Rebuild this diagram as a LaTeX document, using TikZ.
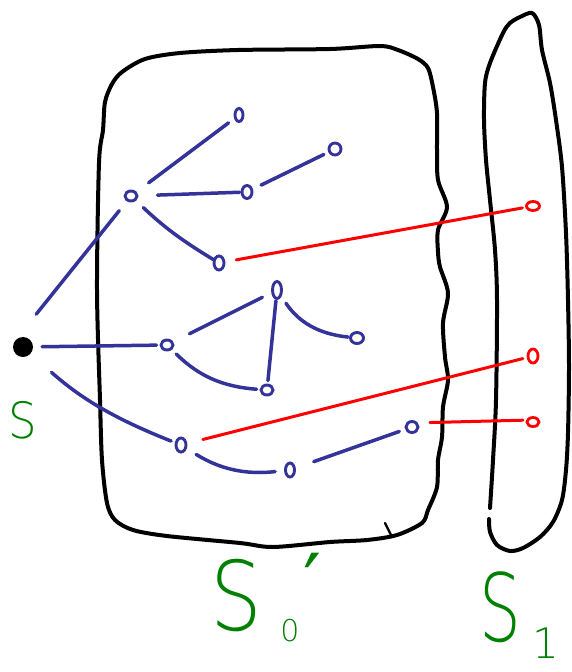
\documentclass[tikz,border=0pt]{standalone}
\usepackage{fontspec}
\newfontfamily\thinfont{DejaVu Sans ExtraLight}
\newfontfamily\dvs{DejaVu Sans}
\usetikzlibrary{shapes.geometric}
\definecolor{hblue}{RGB}{51,51,153}
\definecolor{hred}{RGB}{255,0,0}
\definecolor{hgreen}{RGB}{0,128,0}
\begin{document}
\begin{tikzpicture}[x=1pt,y=-1pt,
  vtx/.style={ellipse,draw=hblue,line width=2.9pt,inner sep=0pt},
  rvtx/.style={ellipse,draw=hred,line width=2.8pt,inner sep=0pt},
  edge/.style={hblue,line width=3.5pt,line cap=round},
  redge/.style={hred,line width=3pt,line cap=round},
  border/.style={black,line width=4pt,line cap=round,line join=round},
  lbl/.style={text=hgreen,inner sep=0pt}]
\useasboundingbox (0,0) rectangle (571,672);

% outlines
\draw[border] plot[smooth cycle,tension=0.5] coordinates {
 (105,102) (112,84) (122,72) (145,59) (180,53) (238,50) (330,49) (380,46)
 (398,50) (418,59) (428,68) (433,87) (437,113) (437,150) (438,180) (447,207)
 (438,230) (438,252) (440,267) (448,293) (443,323) (445,357) (448,380)
 (443,407) (442,437) (438,460) (437,487) (428,510) (422,523) (397,535)
 (367,540) (330,542) (273,547) (240,543) (167,536) (133,530) (115,520)
 (107,503) (102,460) (100,400) (97,290) (99,163) (103,130)};
\draw[border,line width=2.4pt] (385,523) -- (392,537);
\draw[border] plot[smooth,tension=0.5] coordinates {
 (489,519) (490,532) (497,545) (510,551) (523,548) (540,537) (553,522)
 (562,500) (566,470) (568,433) (569,367) (568,300) (566,233) (562,167)
 (556,120) (550,83) (542,50) (539,25) (532,13) (520,17) (510,23) (503,33)
 (490,63) (485,83) (484,120) (486,160) (490,200) (495,250) (497,300)
 (496,400) (493,460) (490,508)};

% vertices
\node[circle,fill=black,minimum size=20pt,inner sep=0pt] (s) at (23,347) {};
\node[vtx,minimum width=12pt,minimum height=10pt] (a1) at (131,196) {};
\node[vtx,minimum width=8pt,minimum height=13pt] (b1) at (239,115) {};
\node[vtx,minimum width=10pt,minimum height=13pt] (b2) at (247,192) {};
\node[vtx,minimum width=12pt,minimum height=12pt] (b3) at (335,149) {};
\node[vtx,minimum width=10pt,minimum height=14pt] (b4) at (219,263) {};
\node[vtx,minimum width=12pt,minimum height=10pt] (c1) at (167,345) {};
\node[vtx,minimum width=9pt,minimum height=17pt] (c2) at (277,290) {};
\node[vtx,minimum width=13pt,minimum height=11pt] (c3) at (357,338) {};
\node[vtx,minimum width=12pt,minimum height=10pt] (c4) at (267,390) {};
\node[vtx,minimum width=10pt,minimum height=14pt] (d1) at (181,445) {};
\node[vtx,minimum width=9pt,minimum height=14pt] (d2) at (290,470) {};
\node[vtx,minimum width=12pt,minimum height=11pt] (d3) at (412,427) {};
\node[rvtx,minimum width=13pt,minimum height=9pt] (r1) at (533,206) {};
\node[rvtx,minimum width=10pt,minimum height=14pt] (r2) at (533,356) {};
\node[rvtx,minimum width=12pt,minimum height=9pt] (r3) at (533,422) {};

% blue edges
\draw[edge,shorten <=34pt,shorten >=12pt] (s.142) -- (a1);
\draw[edge,shorten <=15pt,shorten >=7pt] (a1) -- (b1);
\draw[edge,shorten <=19pt,shorten >=1pt] (a1) -- (b2);
\draw[edge,shorten <=9pt,shorten >=5pt] (b2) -- (b3);
\draw[edge,shorten <=10pt,shorten >=0pt] (a1) to[bend right=6] (b4);
\draw[edge,shorten <=9pt,shorten >=3pt] (s) -- (c1);
\draw[edge,shorten <=18pt,shorten >=10pt] (c1) -- (c2);
\draw[edge,shorten <=6pt,shorten >=3pt] (c1) to[bend right=20] (c4);
\draw[edge,shorten <=1pt,shorten >=3pt] (c2) -- (c4);
\draw[edge,shorten <=8pt,shorten >=1pt] (c2) to[bend right=25] (c3);
\draw[edge,shorten <=28pt,shorten >=4pt] (s) to[bend right=10] (d1);
\draw[edge,shorten <=11pt,shorten >=9pt] (d1) to[bend right=19] (d2);
\draw[edge,shorten <=19pt,shorten >=6pt] (d2) -- (d3);

% red edges
\draw[redge,shorten <=11pt,shorten >=3pt] (b4) -- (r1);
\draw[redge,shorten <=16pt,shorten >=4pt] (d1) -- (r2);
\draw[redge,shorten <=12pt,shorten >=3pt] (d3.35) -- (r3.165);

% labels
\node[lbl,font=\thinfont\fontsize{50}{50}\selectfont,xscale=0.9] (ls) at (23,420) {S};
\node[lbl,font=\thinfont\fontsize{96}{96}\selectfont,xscale=0.85] (ls0) at (236,596) {S};
\node[lbl,font=\thinfont\fontsize{30}{30}\selectfont] (ls0sub) at (290,631) {0};
\node[lbl,font=\dvs\fontsize{80}{80}\selectfont,anchor=north] (ls0p) at (313,553) {′};
\node[lbl,font=\thinfont\fontsize{94}{94}\selectfont,xscale=0.7] (ls1) at (500,607) {S};
\node[lbl,font=\thinfont\fontsize{42}{42}\selectfont,anchor=north] (ls1sub) at (546,628) {1};
\end{tikzpicture}
\end{document}
